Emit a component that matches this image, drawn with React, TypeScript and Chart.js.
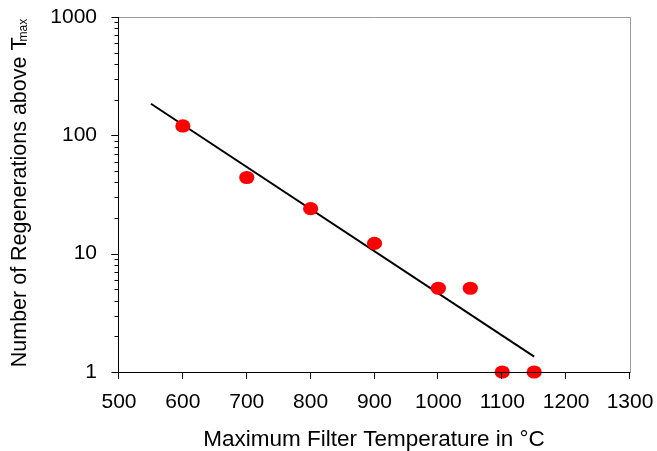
import React, { useEffect, useRef } from "react";
import { Chart, registerables } from "chart.js";

Chart.register(...registerables);

const pointTemps = [600, 700, 800, 900, 1000, 1050, 1100, 1150];
const pointRegens = [120, 44, 24, 12.2, 5.1, 5.1, 1, 1];
const fitTemps = [550, 1150];
const fitRegens = [185, 1.35];
const xTickValues = [500, 600, 700, 800, 900, 1000, 1100, 1200, 1300];
const yTickValues = [1, 10, 100, 1000];
const xTitle = "Maximum Filter Temperature in °C";
const yTitleMain = "Number of Regenerations above T";
const yTitleSub = "max";

const FONT = "'Liberation Sans', Arial, sans-serif";

const decorPlugin = {
  id: "decor",
  afterDatasetsDraw(chart: any) {
    const ctx = chart.ctx;
    const meta = chart.getDatasetMeta(1);
    ctx.save();
    ctx.fillStyle = "#ff0000";
    for (const el of meta.data) {
      ctx.beginPath();
      ctx.ellipse(el.x, el.y, 7.6, 6.6, 0, 0, Math.PI * 2);
      ctx.fill();
    }
    ctx.restore();
  },
  afterDraw(chart: any) {
    const ctx = chart.ctx;
    const { left, right, top, bottom } = chart.chartArea;
    const xs = chart.scales.x;
    const ys = chart.scales.y;
    ctx.save();
    // grey top and right border
    ctx.strokeStyle = "#9a9a9a";
    ctx.lineWidth = 1;
    ctx.beginPath();
    ctx.moveTo(left, top + 0.5);
    ctx.lineTo(right + 0.5, top + 0.5);
    ctx.lineTo(right + 0.5, bottom);
    ctx.stroke();
    // black axes
    ctx.strokeStyle = "#000";
    ctx.beginPath();
    ctx.moveTo(left - 0.5, top);
    ctx.lineTo(left - 0.5, bottom + 0.5);
    ctx.lineTo(right + 0.5, bottom + 0.5);
    ctx.stroke();
    // x ticks
    ctx.beginPath();
    for (const v of xTickValues) {
      const px = Math.round(xs.getPixelForValue(v)) - 0.5;
      ctx.moveTo(px, bottom);
      ctx.lineTo(px, bottom + 7);
    }
    // y ticks: major and minor
    for (let d = 0; d < 3; d++) {
      for (let m = 1; m <= 10; m++) {
        const v = m * Math.pow(10, d);
        const py = Math.round(ys.getPixelForValue(v)) + 0.5;
        const len = m === 1 || m === 10 ? 7 : 4;
        ctx.moveTo(left - 0.5, py);
        ctx.lineTo(left - 0.5 - len, py);
      }
    }
    ctx.stroke();
    // titles
    ctx.fillStyle = "#000";
    ctx.font = `22.5px ${FONT}`;
    ctx.textAlign = "center";
    ctx.textBaseline = "middle";
    ctx.fillText(xTitle, 374, 440);
    // y title rotated with subscript
    ctx.translate(20, 193);
    ctx.rotate(-Math.PI / 2);
    ctx.font = `21.5px ${FONT}`;
    const mainW = ctx.measureText(yTitleMain).width;
    ctx.font = `12px ${FONT}`;
    const subW = ctx.measureText(yTitleSub).width;
    const overlap = 4;
    const total = mainW - overlap + subW;
    ctx.textAlign = "left";
    ctx.font = `21.5px ${FONT}`;
    ctx.fillText(yTitleMain, -total / 2, 0);
    ctx.font = `12px ${FONT}`;
    ctx.fillText(yTitleSub, -total / 2 + mainW - overlap, 4);
    ctx.restore();
  },
};

export default function App() {
  const ref = useRef<HTMLCanvasElement | null>(null);
  useEffect(() => {
    document.body.style.margin = "0";
    const chart = new Chart(ref.current!, {
      type: "scatter",
      data: {
        datasets: [
          {
            type: "line",
            data: fitTemps.map((x, i) => ({ x, y: fitRegens[i] })),
            borderColor: "#000",
            borderWidth: 2,
            pointRadius: 0,
            showLine: true,
            fill: false,
          } as any,
          {
            data: pointTemps.map((x, i) => ({ x, y: pointRegens[i] })),
            pointRadius: 0,
            backgroundColor: "#ff0000",
            borderColor: "#ff0000",
          },
        ],
      },
      options: {
        animation: false,
        responsive: true,
        maintainAspectRatio: false,
        layout: { padding: { top: 17, right: 27, left: 0, bottom: 0 } },
        plugins: { legend: { display: false }, tooltip: { enabled: false } },
        scales: {
          x: {
            type: "linear",
            min: 500,
            max: 1300,
            grid: { display: false, drawTicks: false },
            border: { display: false },
            afterBuildTicks: (s: any) => {
              s.ticks = xTickValues.map((v) => ({ value: v }));
            },
            afterFit: (s: any) => {
              s.height = 79;
              s.paddingLeft = 0;
              s.paddingRight = 0;
            },
            ticks: {
              color: "#000",
              font: { family: FONT, size: 21 },
              padding: 18,
              maxRotation: 0,
              autoSkip: false,
              callback: (v: any) => String(v),
            },
          },
          y: {
            type: "logarithmic",
            min: 1,
            max: 1000,
            grid: { display: false, drawTicks: false },
            border: { display: false },
            afterBuildTicks: (s: any) => {
              s.ticks = yTickValues.map((v) => ({ value: v }));
            },
            afterFit: (s: any) => {
              s.width = 119;
              s.paddingTop = 0;
              s.paddingBottom = 0;
            },
            ticks: {
              color: "#000",
              font: { family: FONT, size: 21 },
              padding: 22,
              autoSkip: false,
              callback: (v: any) => String(v),
            },
          },
        },
      },
      plugins: [decorPlugin],
    });
    return () => chart.destroy();
  }, []);
  return (
    <div style={{ width: 657, height: 451, position: "relative" }}>
      <canvas ref={ref} />
    </div>
  );
}
